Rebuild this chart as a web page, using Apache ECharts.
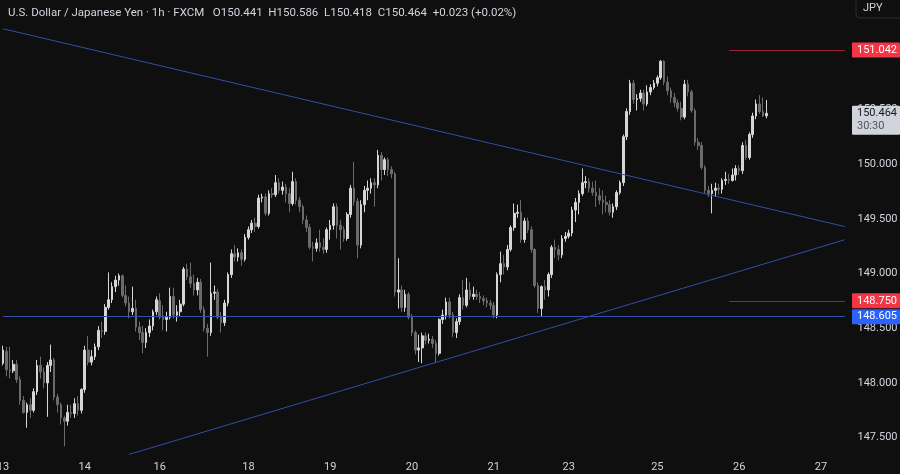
<!DOCTYPE html>
<html><head><meta charset="utf-8">
<script src="https://cdn.jsdelivr.net/npm/echarts/dist/echarts.min.js"></script>
<style>html,body{margin:0;padding:0;background:#0f0f0f;}#c{width:900px;height:474px;}</style>
</head><body><div id="c"></div>
<script>
// ---- categories (hourly bars, trading days) ----
const days = ['13','14','16','17','18','19','20','21','23','24','25','26','27'];
const barsPerDay = [24,22,2,24,24,24,24,22,2,24,24,24,8];
const firstHour = [0,0,22,0,0,0,0,0,22,0,0,0,0];
const shownDays = ['13','14','16','18','19','20','21','23','25','26','27'];
// ---- y ticks ----
const yMin = 147.0, yMax = 151.5, yStep = 0.5;
// ---- OHLC rows: [open, close, low, high] ----
const d13 = [
[148.18,148.30,148.16,148.34],[148.29,148.12,148.06,148.33],[148.12,148.11,148.04,148.33],[148.11,148.17,148.09,148.21],
[148.17,148.03,148.00,148.21],[148.03,147.84,147.80,148.06],[147.84,147.73,147.72,147.88],[147.73,147.80,147.59,147.82],
[147.80,147.75,147.68,147.86],[147.75,147.92,147.73,147.95],[147.92,148.16,147.89,148.21],[148.16,148.10,148.04,148.24],
[148.10,148.00,147.95,148.14],[148.00,148.16,147.69,148.19],[148.16,148.21,148.10,148.35],[148.21,147.87,147.84,148.23],
[147.87,147.80,147.73,147.90],[147.80,147.68,147.62,147.82],[147.68,147.65,147.42,147.70],[147.65,147.73,147.61,147.80],
[147.73,147.72,147.68,147.80],[147.72,147.81,147.68,147.86],[147.81,147.75,147.70,147.88],[147.75,147.94,147.72,147.95]];
const d14 = [
[147.94,148.30,147.91,148.34],[148.30,148.19,148.16,148.43],[148.19,148.24,148.16,148.30],[148.24,148.33,148.21,148.36],
[148.33,148.48,148.30,148.52],[148.48,148.47,148.41,148.56],[148.47,148.69,148.44,148.72],[148.69,148.76,148.67,149.01],
[148.76,148.88,148.73,148.92],[148.88,148.94,148.83,148.98],[148.94,148.98,148.89,149.00],[148.98,148.80,148.78,148.99],
[148.80,148.73,148.70,148.89],[148.73,148.65,148.59,148.79],[148.65,148.68,148.62,148.88],[148.68,148.51,148.47,148.76],
[148.51,148.46,148.39,148.56],[148.46,148.37,148.27,148.52],[148.37,148.46,148.32,148.50],[148.46,148.52,148.42,148.58],
[148.52,148.65,148.48,148.67],[148.65,148.76,148.62,148.79]];
const d16 = [[148.75,148.60,148.58,148.82],[148.60,148.58,148.48,148.71]];
const d17 = [
[148.58,148.60,148.47,148.65],[148.60,148.79,148.58,148.87],[148.79,148.62,148.59,148.87],[148.62,148.65,148.56,148.71],
[148.65,148.72,148.61,148.76],[148.72,149.04,148.70,149.06],[149.04,148.97,148.94,149.09],[148.97,148.91,148.87,149.10],
[148.91,148.85,148.80,148.99],[148.85,148.92,148.80,148.96],[148.92,148.67,148.64,148.95],[148.67,148.50,148.47,148.70],
[148.50,148.46,148.24,148.54],[148.46,148.82,148.43,149.10],[148.82,148.83,148.76,148.89],[148.83,148.60,148.58,148.86],
[148.60,148.55,148.46,148.65],[148.55,148.73,148.52,148.76],[148.73,148.99,148.70,149.01],[148.99,149.18,148.96,149.22],
[149.18,149.15,149.11,149.26],[149.15,149.19,149.11,149.23],[149.19,149.13,149.07,149.22],[149.13,149.33,149.11,149.36]];
const d18 = [
[149.33,149.40,149.31,149.43],[149.40,149.46,149.37,149.49],[149.46,149.43,149.38,149.51],[149.43,149.69,149.41,149.72],
[149.69,149.70,149.65,149.73],[149.70,149.55,149.53,149.73],[149.55,149.73,149.53,149.76],[149.73,149.72,149.69,149.78],
[149.72,149.83,149.70,149.90],[149.83,149.76,149.73,149.87],[149.76,149.79,149.72,149.84],[149.79,149.73,149.65,149.82],
[149.73,149.64,149.56,149.78],[149.64,149.84,149.62,149.93],[149.84,149.67,149.63,149.87],[149.67,149.61,149.56,149.70],
[149.61,149.49,149.45,149.63],[149.49,149.42,149.38,149.53],[149.42,149.24,149.22,149.45],[149.24,149.23,149.11,149.29],
[149.23,149.28,149.20,149.32],[149.28,149.24,149.20,149.40],[149.24,149.22,149.18,149.32],[149.22,149.40,149.19,149.42]];
const d19 = [
[149.40,149.44,149.31,149.49],[149.44,149.61,149.40,149.64],[149.61,149.44,149.32,149.64],[149.44,149.40,149.22,149.49],
[149.40,149.32,149.29,149.43],[149.32,149.54,149.30,149.56],[149.54,149.78,149.51,149.81],[149.78,149.66,149.62,150.02],
[149.66,149.26,149.14,149.69],[149.26,149.63,149.23,149.67],[149.63,149.76,149.56,149.80],[149.76,149.78,149.67,149.85],
[149.78,149.83,149.73,149.87],[149.83,149.81,149.61,149.87],[149.81,150.08,149.78,150.13],[150.08,149.95,149.85,150.11],
[149.95,150.04,149.90,150.06],[150.04,149.95,149.89,150.06],[149.95,149.91,149.87,149.98],[149.91,148.83,148.79,149.93],
[148.83,148.85,148.68,149.14],[148.85,148.69,148.65,148.89],[148.69,148.81,148.65,148.85],[148.81,148.60,148.58,148.83]];
const d20 = [
[148.60,148.46,148.43,148.63],[148.46,148.30,148.26,148.48],[148.30,148.32,148.19,148.44],[148.32,148.43,148.18,148.46],
[148.43,148.39,148.35,148.46],[148.39,148.40,148.36,148.45],[148.40,148.36,148.32,148.43],[148.36,148.27,148.18,148.39],
[148.27,148.58,148.25,148.59],[148.58,148.62,148.54,148.67],[148.62,148.74,148.58,148.78],[148.74,148.62,148.59,148.78],
[148.62,148.46,148.42,148.65],[148.46,148.56,148.41,148.59],[148.56,148.78,148.53,148.81],[148.78,148.71,148.67,148.94],
[148.71,148.85,148.69,148.96],[148.85,148.79,148.76,148.92],[148.79,148.81,148.76,148.88],[148.81,148.79,148.76,148.85],
[148.79,148.77,148.73,148.83],[148.77,148.75,148.71,148.80],[148.75,148.73,148.69,148.78],[148.73,148.71,148.67,148.76]];
const d21 = [
[148.71,148.62,148.59,148.74],[148.62,148.99,148.59,149.01],[148.99,149.09,148.92,149.20],[149.09,149.06,148.99,149.17],
[149.06,149.22,149.03,149.26],[149.22,149.42,149.20,149.44],[149.42,149.55,149.39,149.64],[149.55,149.56,149.51,149.63],
[149.56,149.31,149.28,149.67],[149.31,149.48,149.28,149.51],[149.48,149.40,149.37,149.51],[149.40,149.22,149.19,149.43],
[149.22,148.89,148.87,149.23],[148.89,148.68,148.64,148.92],[148.68,148.88,148.61,148.89],[148.88,148.85,148.76,148.94],
[148.85,148.99,148.79,149.01],[148.99,149.24,148.96,149.26],[149.24,149.22,149.14,149.31],[149.22,149.17,149.12,149.26],
[149.17,149.32,149.14,149.35],[149.32,149.34,149.29,149.38]];
const d23 = [[149.34,149.37,149.32,149.40],[149.37,149.58,149.34,149.61]];
const d24 = [
[149.58,149.65,149.47,149.69],[149.65,149.73,149.54,149.76],[149.73,149.83,149.71,149.96],[149.83,149.84,149.78,149.89],
[149.84,149.78,149.74,149.87],[149.78,149.74,149.71,149.84],[149.74,149.71,149.61,149.85],[149.71,149.67,149.63,149.78],
[149.67,149.65,149.54,149.76],[149.65,149.63,149.56,149.71],[149.63,149.56,149.53,149.67],[149.56,149.61,149.51,149.64],
[149.61,149.74,149.58,149.76],[149.74,149.83,149.72,149.85],[149.83,150.25,149.80,150.27],[150.25,150.48,150.22,150.51],
[150.48,150.74,150.45,150.77],[150.74,150.59,150.55,150.77],[150.59,150.60,150.49,150.64],[150.60,150.65,150.57,150.68],
[150.65,150.55,150.49,150.68],[150.55,150.66,150.53,150.72],[150.66,150.70,150.63,150.73],[150.70,150.74,150.68,150.77]];
const d25 = [
[150.74,150.79,150.71,150.81],[150.79,150.94,150.77,150.95],[150.94,150.75,150.72,150.95],[150.75,150.67,150.63,150.80],
[150.67,150.61,150.56,150.70],[150.61,150.56,150.52,150.65],[150.56,150.51,150.48,150.59],[150.51,150.43,150.40,150.57],
[150.43,150.73,150.41,150.77],[150.73,150.66,150.62,150.77],[150.66,150.49,150.47,150.68],[150.49,150.20,150.17,150.51],
[150.20,150.17,150.13,150.24],[150.17,149.97,149.95,150.20],[149.97,149.76,149.73,149.99],[149.76,149.73,149.70,149.80],
[149.73,149.76,149.55,149.82],[149.76,149.78,149.70,149.83],[149.78,149.77,149.72,149.82],[149.77,149.85,149.73,149.87],
[149.85,149.86,149.81,149.93],[149.86,149.85,149.82,149.91],[149.85,149.90,149.84,149.96],[149.90,149.96,149.85,149.99]];
const d26 = [
[149.96,149.94,149.90,149.99],[149.94,150.17,149.91,150.20],[150.17,150.06,150.04,150.22],[150.06,150.27,150.04,150.29],
[150.27,150.44,150.24,150.47],[150.44,150.55,150.41,150.59],[150.55,150.48,150.46,150.63],[150.48,150.44,150.43,150.61],
[150.441,150.464,150.418,150.586]];
// ---- drawn levels / trendlines (category index, price) ----
const resistance = 151.042, support = 148.750, blueLevel = 148.605;
const levelStartIdx = 213, lastIdx = 247;
const trendDown = [[0,151.237],[247,149.429]];
const trendUp = [[37,147.346],[247,149.309]];
const lastPrice = 150.464, countdown = '30:30';
const header = 'U.S. Dollar / Japanese Yen · 1h · FXCM   O150.441  H150.586  L150.418  C150.464  +0.023 (+0.02%)';

// build categories
const categories = [];
const dayFirstIdx = {};
days.forEach((d, k) => {
  dayFirstIdx[categories.length] = d;
  for (let h = 0; h < barsPerDay[k]; h++) categories.push(d + ' ' + String(firstHour[k] + h).padStart(2,'0') + ':00');
});
const ohlc = [].concat(d13, d14, d16, d17, d18, d19, d20, d21, d23, d24, d25, d26);

const chart = echarts.init(document.getElementById('c'), null, {renderer:'canvas'});
const font = 'Roboto, "Liberation Sans", sans-serif';
const txt = '#d1d4dc';
const up = '#d6d6d6', down = '#6b6b6b';
const blue = '#2f4fa8', red = '#9a2532';
function seg(a, b, color) {
  return [{coord: a, lineStyle: {color: color, width: 1, type: 'solid', opacity: 1}}, {coord: b, lineStyle: {color: color, width: 1, type: 'solid', opacity: 1}}];
}
chart.setOption({
  backgroundColor: '#0f0f0f',
  animation: false,
  title: {text: header, left: 3, top: 2, textStyle: {color: txt, fontSize: 11.5, fontWeight: 'normal', fontFamily: font}},
  grid: {left: 1.3, top: 0, width: 845.2, height: 492.3, containLabel: false, outerBoundsMode: 'none'},
  xAxis: {
    type: 'category', data: categories, boundaryGap: true, offset: -39,
    axisLine: {show: false}, axisTick: {show: false}, splitLine: {show: false},
    axisLabel: {
      color: txt, fontSize: 11, fontFamily: font, margin: 8, hideOverlap: false,
      interval: (i) => dayFirstIdx[i] !== undefined && shownDays.includes(dayFirstIdx[i]),
      formatter: (v) => v.split(' ')[0]
    }
  },
  yAxis: {
    type: 'value', position: 'right', min: yMin, max: yMax, interval: yStep,
    axisLine: {show: false}, axisTick: {show: false}, splitLine: {show: false},
    axisLabel: {color: txt, fontSize: 11, fontFamily: font, align: 'left', margin: 11, showMaxLabel: false,
      formatter: v => v.toFixed(3)}
  },
  series: [{
    type: 'candlestick', data: ohlc, barWidth: '62%',
    itemStyle: {color: up, color0: down, borderColor: up, borderColor0: down, borderColorDoji: up, borderWidth: 1},
    markLine: {
      silent: true, symbol: ['none','none'], label: {show: false}, animation: false,
      lineStyle: {width: 1, type: 'solid', opacity: 1},
      emphasis: {disabled: true},
      data: [
        seg(trendDown[0], trendDown[1], blue),
        seg(trendUp[0], trendUp[1], blue),
        seg([0, blueLevel], [lastIdx, blueLevel], blue),
        seg([levelStartIdx, resistance], [lastIdx, resistance], red),
        seg([levelStartIdx, support], [lastIdx, support], red)
      ]
    }
  }]
});

const yPx = v => chart.convertToPixel({yAxisIndex: 0}, v);
const bx = 852, bw = 48;
function tag(val, bg, fg, extra) {
  const y = yPx(val);
  const h = extra ? 29 : 15;
  const top = y - 7.5;
  const els = [
    {type:'rect', z: 100, shape:{x: bx, y: top, width: bw, height: h, r: 1}, style:{fill: bg}},
    {type:'text', z: 101, style:{x: 857, y: y, text: val.toFixed(3), fill: fg, font: '11px ' + font, textVerticalAlign: 'middle'}}
  ];
  if (extra) els.push({type:'text', z: 101, style:{x: 857, y: y + 13, text: extra, fill: '#50535e', font: '11px ' + font, textVerticalAlign: 'middle'}});
  return els;
}
chart.setOption({
  graphic: [].concat(
    [{type:'rect', z: 100, shape:{x: 856, y: -6, width: 50, height: 24, r: 4}, style:{fill:'#0f0f0f', stroke:'#2a2e39', lineWidth: 1}},
     {type:'text', z: 101, style:{x: 863, y: 8, text: 'JPY', fill: txt, font: '11px ' + font, textVerticalAlign: 'middle'}}],
    tag(resistance, '#f23645', '#ffffff'),
    tag(lastPrice, '#d1d4dc', '#131722', countdown),
    tag(support, '#f23645', '#ffffff'),
    tag(blueLevel, '#2962ff', '#ffffff')
  )
});
</script></body></html>
